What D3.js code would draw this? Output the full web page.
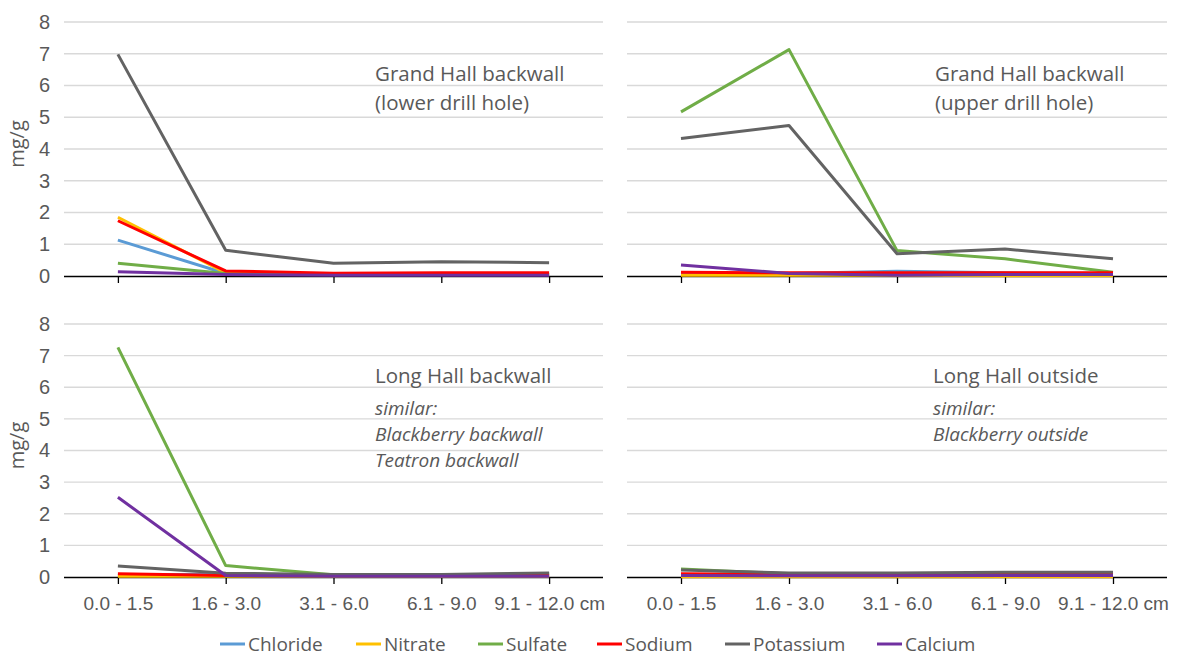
<!DOCTYPE html>
<html>
<head>
<meta charset="utf-8">
<script src="https://cdn.jsdelivr.net/npm/d3@7"></script>
<style>
  html, body { margin: 0; padding: 0; background: #fff; }
  svg { display: block; font-family: "Open Sans", sans-serif; }
</style>
</head>
<body>
<div id="chart"></div>
<script>
// depth classes and ions
const categories = ['0.0 - 1.5', '1.6 - 3.0', '3.1 - 6.0', '6.1 - 9.0', '9.1 - 12.0 cm'];
const seriesNames = ['Chloride', 'Nitrate', 'Sulfate', 'Sodium', 'Potassium', 'Calcium'];
const seriesColors = ['#5B9BD5', '#FFC000', '#70AD47', '#FF0000', '#636363', '#7030A0'];
const yTicks = [0, 1, 2, 3, 4, 5, 6, 7, 8];

// values in mg/g, one row per ion (same order as seriesNames)
const grandHallLower = [
  [1.13, 0.08, 0.05, 0.05, 0.05],
  [1.85, 0.10, 0.05, 0.05, 0.05],
  [0.40, 0.08, 0.05, 0.05, 0.05],
  [1.74, 0.16, 0.09, 0.10, 0.10],
  [6.98, 0.81, 0.40, 0.45, 0.42],
  [0.13, 0.05, 0.02, 0.02, 0.02]
];
const grandHallUpper = [
  [0.05, 0.08, 0.15, 0.10, 0.08],
  [0.02, 0.02, 0.02, 0.01, 0.01],
  [5.17, 7.13, 0.80, 0.54, 0.12],
  [0.12, 0.10, 0.10, 0.10, 0.10],
  [4.33, 4.74, 0.70, 0.85, 0.54],
  [0.35, 0.08, 0.02, 0.05, 0.05]
];
const longHallBackwall = [
  [0.05, 0.10, 0.05, 0.05, 0.10],
  [0.02, 0.02, 0.02, 0.02, 0.02],
  [7.26, 0.36, 0.07, 0.07, 0.10],
  [0.10, 0.05, 0.05, 0.05, 0.05],
  [0.35, 0.12, 0.08, 0.08, 0.13],
  [2.52, 0.05, 0.02, 0.02, 0.02]
];
const longHallOutside = [
  [0.05, 0.05, 0.05, 0.05, 0.05],
  [0.01, 0.01, 0.01, 0.01, 0.01],
  [0.25, 0.10, 0.10, 0.10, 0.10],
  [0.10, 0.08, 0.08, 0.10, 0.10],
  [0.22, 0.13, 0.13, 0.15, 0.15],
  [0.05, 0.04, 0.04, 0.05, 0.05]
];

const panels = [
  { data: grandHallLower, x0: 64, x1: 603, y0: 276, y1: 22, yAxis: true, xLabels: false,
    title: ['Grand Hall backwall', '(lower drill hole)'], note: [], tx: 375 },
  { data: grandHallUpper, x0: 627, x1: 1167, y0: 276, y1: 22, yAxis: false, xLabels: false,
    title: ['Grand Hall backwall', '(upper drill hole)'], note: [], tx: 935 },
  { data: longHallBackwall, x0: 64, x1: 603, y0: 577, y1: 324, yAxis: true, xLabels: true,
    title: ['Long Hall backwall'], note: ['similar:', 'Blackberry backwall', 'Teatron backwall'], tx: 375 },
  { data: longHallOutside, x0: 627, x1: 1167, y0: 577, y1: 324, yAxis: false, xLabels: true,
    title: ['Long Hall outside'], note: ['similar:', 'Blackberry outside'], tx: 933 }
];

const width = 1177, height = 657;
const textColor = '#595959';

const svg = d3.select('#chart').append('svg')
  .attr('width', width)
  .attr('height', height);

panels.forEach(p => {
  const x = d3.scalePoint().domain(categories).range([p.x0, p.x1]).padding(0.5);
  const y = d3.scaleLinear().domain([0, 8]).range([p.y0, p.y1]);
  const g = svg.append('g');

  // gridlines
  g.append('g').selectAll('line')
    .data(yTicks.filter(d => d > 0))
    .join('line')
    .attr('x1', p.x0).attr('x2', p.x1)
    .attr('y1', d => y(d)).attr('y2', d => y(d))
    .attr('stroke', '#D9D9D9').attr('stroke-width', 1.3);

  // x axis
  const xAxis = g.append('g')
    .attr('transform', `translate(0,${p.y0})`)
    .call(d3.axisBottom(x).tickSize(7).tickSizeOuter(0).tickPadding(13));
  xAxis.select('.domain').attr('d', `M${p.x0},0.5H${p.x1}`).attr('stroke', '#000').attr('stroke-width', 1.3);
  xAxis.selectAll('.tick line').attr('stroke', '#000').attr('stroke-width', 1.3);
  xAxis.selectAll('.tick text')
    .attr('fill', textColor)
    .style('font-size', '19px')
    .style('display', p.xLabels ? null : 'none');

  if (p.yAxis) {
    const yAxis = g.append('g')
      .attr('transform', `translate(${p.x0},0)`)
      .call(d3.axisLeft(y).tickValues(yTicks).tickSize(0).tickPadding(14));
    yAxis.select('.domain').remove();
    yAxis.selectAll('.tick text')
      .attr('fill', textColor)
      .style('font-size', '20px');

    g.append('text')
      .attr('transform', `translate(24,${(p.y0 + p.y1) / 2 - 5}) rotate(-90)`)
      .attr('text-anchor', 'middle')
      .attr('fill', textColor)
      .style('font-size', '20px')
      .text('mg/g');
  }

  // series lines
  const line = d3.line()
    .x((d, i) => x(categories[i]))
    .y(d => y(d));

  g.append('g').selectAll('path')
    .data(p.data)
    .join('path')
    .attr('d', line)
    .attr('fill', 'none')
    .attr('stroke', (d, i) => seriesColors[i])
    .attr('stroke-width', 3)
    .attr('stroke-linejoin', 'round');

  // annotations
  const ty = p.y1 + 59;
  g.selectAll('text.title')
    .data(p.title)
    .join('text')
    .attr('class', 'title')
    .attr('x', p.tx)
    .attr('y', (d, i) => ty + i * 29)
    .attr('fill', textColor)
    .style('font-size', '20.5px')
    .text(d => d);

  g.selectAll('text.note')
    .data(p.note)
    .join('text')
    .attr('class', 'note')
    .attr('x', p.tx)
    .attr('y', (d, i) => ty + 32 + i * 26)
    .attr('fill', textColor)
    .style('font-size', '19px')
    .style('font-style', 'italic')
    .text(d => d);
});

// legend
const legendX = [220, 356, 478, 597, 725, 877];
const legend = svg.append('g').attr('transform', 'translate(0,644)');
const item = legend.selectAll('g')
  .data(seriesNames)
  .join('g')
  .attr('transform', (d, i) => `translate(${legendX[i]},0)`);
item.append('line')
  .attr('x1', 0).attr('x2', 25)
  .attr('stroke', (d, i) => seriesColors[i])
  .attr('stroke-width', 3);
item.append('text')
  .attr('x', 28)
  .attr('dy', '0.35em')
  .attr('fill', textColor)
  .style('font-size', '19px')
  .text(d => d);
</script>
</body>
</html>
